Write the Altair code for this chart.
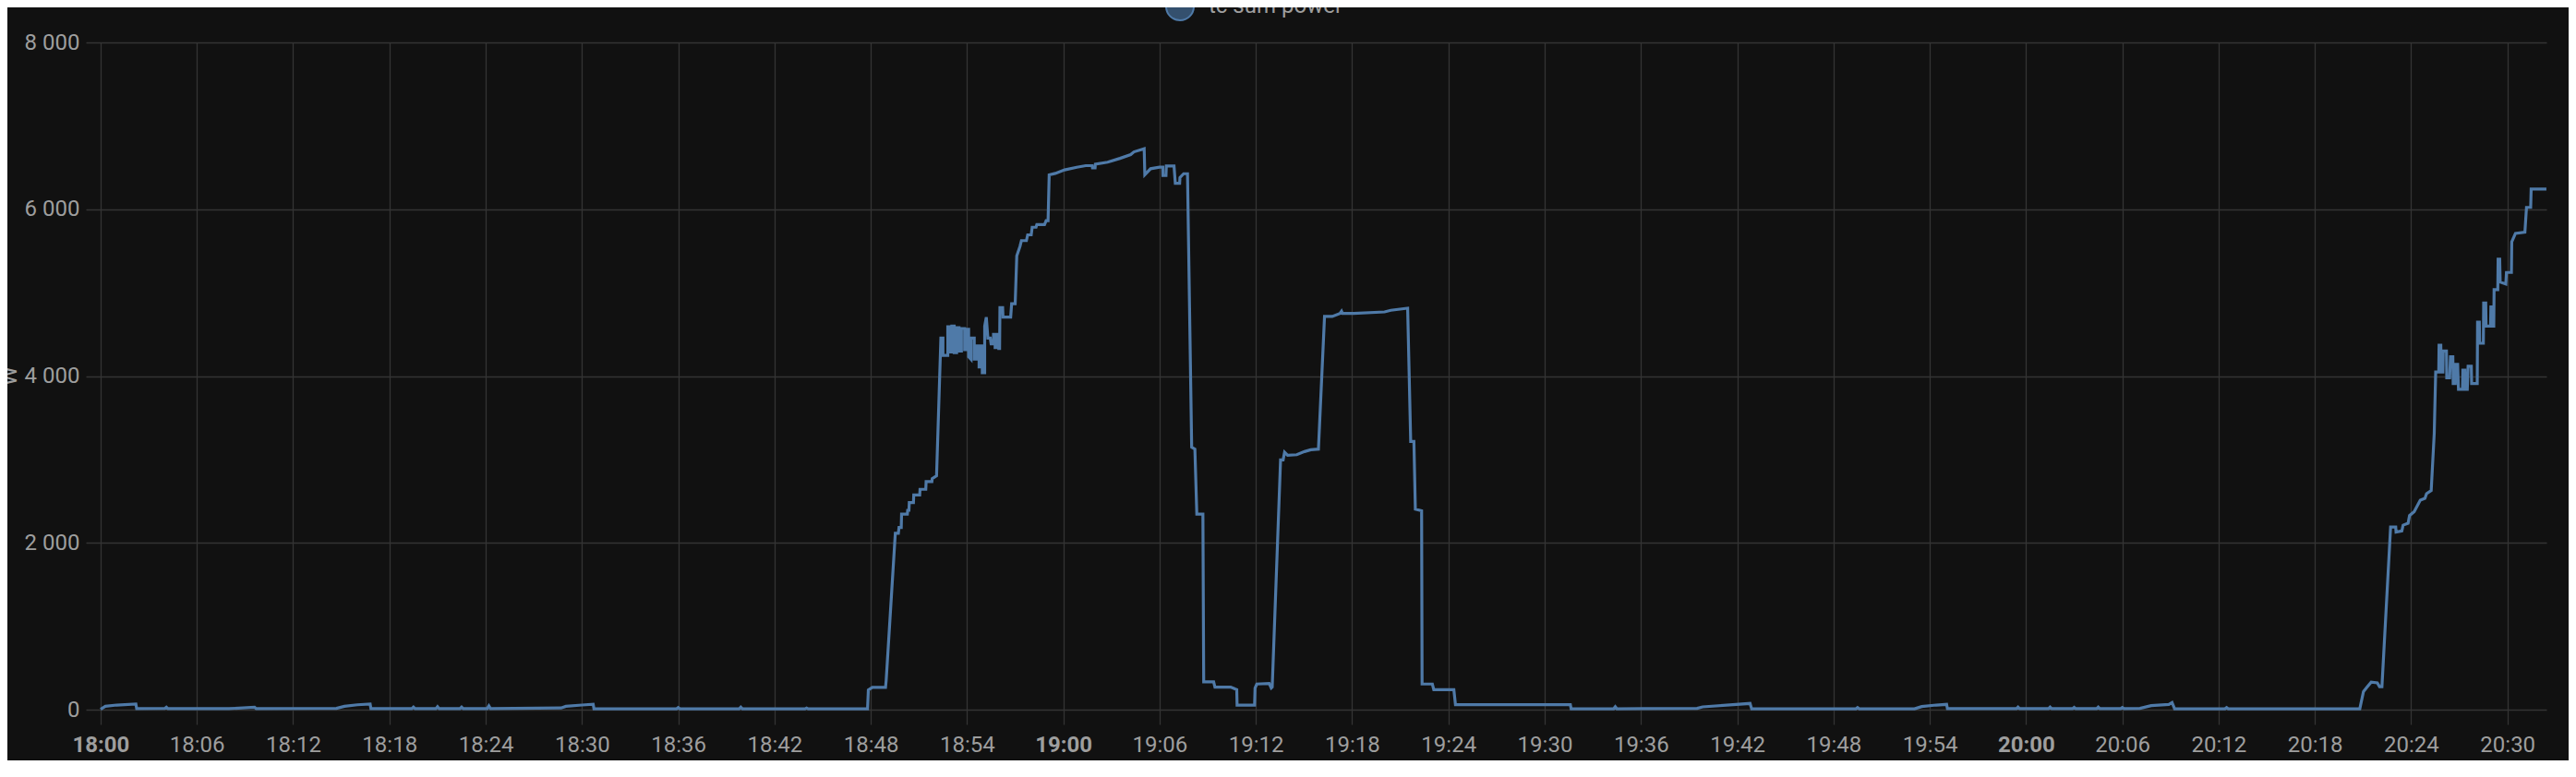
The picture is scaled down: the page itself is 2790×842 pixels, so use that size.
import altair as alt
import pandas as pd

# ---- data: (minutes after 18:00, watts) ----
idle_start = [
    (0.0, 5), (0.3, 40), (1.0, 55), (2.2, 68), (2.25, 12), (4.0, 15), (4.1, 30), (4.2, 12),
    (8.0, 12), (9.6, 28), (9.7, 12), (13.5, 14), (14.7, 16), (15.2, 40), (16.0, 58),
    (16.8, 68), (16.85, 12), (19.4, 12), (19.5, 30), (19.6, 12), (20.9, 12), (21.0, 35),
    (21.1, 12), (22.4, 12), (22.5, 30), (22.6, 12), (24.1, 12), (24.2, 45), (24.3, 12),
    (28.7, 20), (29.0, 40), (30.0, 55), (30.7, 65), (30.75, 10), (35.9, 10), (36.0, 25),
    (36.1, 10), (39.8, 10), (39.9, 30), (40.0, 10), (43.9, 10), (44.0, 20), (44.1, 10),
    (47.8, 10), (47.85, 235), (48.1, 266), (48.92, 266),
]
run_one = [
    (48.96, 350), (49.53, 2115), (49.72, 2115), (49.76, 2183), (49.9, 2183), (49.92, 2344),
    (50.28, 2344), (50.3, 2390), (50.38, 2390), (50.4, 2482), (50.66, 2482), (50.68, 2573),
    (51.05, 2573), (51.07, 2642), (51.43, 2642), (51.45, 2734), (51.81, 2734), (51.83, 2770),
    (52.1, 2803), (52.37, 4454), (52.5, 4454), (52.5, 4248), (52.8, 4248), (52.8, 4592),
    (52.95, 4592), (52.95, 4290), (53.05, 4290), (53.05, 4600), (53.2, 4600), (53.2, 4280),
    (53.35, 4280), (53.35, 4580), (53.5, 4580), (53.5, 4300), (53.65, 4300), (53.65, 4570),
    (53.85, 4570), (53.85, 4316), (54.0, 4316), (54.0, 4560), (54.1, 4560), (54.1, 4230),
    (54.25, 4200), (54.25, 4454), (54.45, 4454), (54.45, 4202), (54.6, 4202), (54.6, 4362),
    (54.75, 4362), (54.75, 4110), (54.85, 4110), (54.85, 4362), (54.95, 4362), (54.95, 4041),
    (55.1, 4041), (55.1, 4600), (55.2, 4706), (55.3, 4454), (55.45, 4454), (55.5, 4385),
    (55.65, 4385), (55.65, 4500), (55.75, 4500), (55.75, 4340), (55.9, 4340), (55.9, 4500),
    (55.98, 4500), (55.98, 4330), (56.03, 4330), (56.05, 4821), (56.22, 4821), (56.24, 4706),
    (56.72, 4706), (56.78, 4867), (57.0, 4867), (57.1, 5440), (57.3, 5555), (57.39, 5624),
    (57.7, 5624), (57.78, 5693), (58.0, 5693), (58.06, 5784), (58.3, 5784), (58.35, 5816),
    (58.83, 5816), (58.93, 5862), (59.05, 5862), (59.12, 6413), (59.5, 6430), (60.08, 6472),
    (60.84, 6504), (61.4, 6523), (61.8, 6523), (61.82, 6495), (61.98, 6495), (62.0, 6541),
    (62.76, 6564), (63.53, 6610), (64.2, 6656), (64.4, 6688), (65.04, 6725), (65.08, 6413),
    (65.44, 6486), (66.0, 6504), (66.2, 6504), (66.21, 6404), (66.4, 6404), (66.42, 6518),
    (66.9, 6518), (66.98, 6312), (67.25, 6312), (67.27, 6381), (67.5, 6426), (67.74, 6426),
    (68.0, 3147), (68.2, 3124), (68.32, 2344), (68.70, 2344), (68.75, 333), (69.37, 333),
    (69.45, 270), (70.43, 270), (70.7, 248), (70.81, 240), (70.83, 55), (71.92, 55),
    (71.95, 259), (72.06, 307), (72.83, 314), (72.96, 259), (73.02, 270),
]
run_two = [
    (73.54, 2995), (73.7, 2995), (73.79, 3087), (73.98, 3050), (74.55, 3057), (75.03, 3094),
    (75.42, 3116), (75.9, 3124), (76.28, 4714), (76.76, 4714), (77.24, 4751), (77.34, 4777),
    (77.4, 4751), (78.1, 4751), (80.02, 4769), (80.41, 4788), (81.46, 4813), (81.65, 3216),
    (81.85, 3216), (81.94, 2403), (82.33, 2385), (82.36, 307), (83.0, 307), (83.09, 240),
    (84.34, 240), (84.44, 60),
]
idle_mid = [
    (91.6, 60), (91.65, 10), (94.3, 10), (94.4, 35), (94.5, 10), (99.5, 15), (99.85, 33),
    (102.8, 74), (102.9, 10), (109.4, 10), (109.5, 25), (109.6, 10), (113.05, 10),
    (113.5, 37), (114.4, 55), (115.05, 63), (115.1, 12), (119.4, 12), (119.5, 30),
    (119.6, 12), (121.4, 12), (121.5, 30), (121.6, 12), (122.9, 12), (123.0, 28),
    (123.1, 12), (124.4, 12), (124.5, 30), (124.6, 12), (125.9, 12), (126.0, 25),
    (126.1, 12), (127.1, 15), (127.8, 48), (128.9, 63), (129.1, 85), (129.26, 10),
    (132.4, 10), (132.5, 25), (132.6, 10), (140.8, 10),
]
run_three = [
    (141.03, 216), (141.22, 262), (141.51, 330), (141.89, 321), (142.03, 275), (142.18, 275),
    (142.72, 2190), (143.04, 2190), (143.06, 2130), (143.42, 2143), (143.5, 2212),
    (143.81, 2235), (143.9, 2327), (144.19, 2373), (144.38, 2442), (144.57, 2511),
    (144.86, 2534), (144.96, 2589), (145.25, 2626), (145.44, 3314), (145.53, 4048),
    (145.72, 4048), (145.74, 4370), (145.85, 4370), (145.87, 4048), (145.98, 4048),
    (146.0, 4301), (146.2, 4301), (146.22, 3980), (146.4, 3980), (146.45, 4232),
    (146.6, 4232), (146.62, 3911), (146.75, 3911), (146.78, 4140), (146.9, 4140),
    (146.95, 3842), (147.2, 3842), (147.22, 4071), (147.35, 4071), (147.37, 3842),
    (147.5, 3842), (147.55, 4117), (147.75, 4117), (147.77, 3911), (148.12, 3911),
    (148.14, 4645), (148.25, 4645), (148.27, 4393), (148.5, 4393), (148.52, 4875),
    (148.65, 4875), (148.67, 4599), (148.95, 4599), (148.97, 4829), (149.1, 4829),
    (149.12, 4599), (149.15, 4599), (149.17, 5035), (149.4, 5035), (149.42, 5402),
    (149.52, 5402), (149.55, 5127), (149.9, 5104), (149.94, 5242), (150.25, 5242),
    (150.27, 5609), (150.5, 5710), (151.09, 5724), (151.19, 6022), (151.45, 6022),
    (151.48, 6242), (152.43, 6242),
]

series_name = "tc sum power"
tick_labels = ["18:00", "18:06", "18:12", "18:18", "18:24", "18:30", "18:36", "18:42",
               "18:48", "18:54", "19:00", "19:06", "19:12", "19:18", "19:24", "19:30",
               "19:36", "19:42", "19:48", "19:54", "20:00", "20:06", "20:12", "20:18",
               "20:24", "20:30"]
y_ticks = [0, 2000, 4000, 6000, 8000]

rows = idle_start + run_one + run_two + idle_mid + run_three
base = pd.Timestamp("2024-01-01 18:00:00")
df = pd.DataFrame(rows, columns=["minute", "watts"])
df["time"] = base + pd.to_timedelta(df["minute"], unit="m")
df["series"] = series_name

def dt(h, m, s=0):
    return alt.DateTime(year=2024, month=1, date=1, hours=h, minutes=m, seconds=s)

tick_vals = [dt(int(t[:2]), int(t[3:])) for t in tick_labels]

LINE = "#4f7aa8"
GRID = "#343434"
TXT = "#9e9e9e"

chart = alt.Chart(df).mark_line(strokeWidth=3.2, interpolate="linear").encode(
    x=alt.X("time:T",
            scale=alt.Scale(domain=[dt(17, 59, 5), dt(20, 32, 26)], nice=False),
            axis=alt.Axis(values=tick_vals, format="%H:%M", title=None, domain=False,
                          ticks=True, tickSize=16, tickColor=GRID, tickWidth=1.3,
                          grid=True, gridColor=GRID, gridWidth=1.3,
                          labelFontSize=24, labelColor=TXT, labelPadding=10,
                          labelFlush=False, labelOverlap=False,
                          labelFontWeight={"condition": {"test": "minutes(datum.value) === 0",
                                                         "value": "bold"},
                                           "value": "normal"})),
    y=alt.Y("watts:Q",
            scale=alt.Scale(domain=[0, 8000], nice=False),
            axis=alt.Axis(values=y_ticks, title="W", domain=False, ticks=False,
                          grid=True, gridColor=GRID, gridWidth=1.6,
                          labelFontSize=24, labelColor=TXT, labelPadding=7,
                          labelExpr="datum.value == 0 ? '0' : (datum.value / 1000) + ' 000'",
                          titleFontSize=24, titleColor=TXT, titleFontWeight="normal",
                          titleAngle=-90, titleX=-76, titleY=361, titleAlign="center",
                          titleBaseline="alphabetic")),
    color=alt.Color("series:N",
                    scale=alt.Scale(range=[LINE]),
                    legend=alt.Legend(orient="none", legendX=1169, legendY=-55, title=None,
                                      symbolType="circle", symbolSize=900,
                                      symbolFillColor="#34506e", symbolStrokeColor="#5580b0",
                                      symbolStrokeWidth=2, symbolOpacity=1,
                                      labelFontSize=24, labelColor=TXT, labelOffset=15,
                                      padding=0)),
).properties(
    width=2665, height=723,
    autosize=alt.AutoSizeParams(type="none"),
    padding={"left": 85, "top": 38, "right": 24, "bottom": 55},
    background="#111111",
).configure(font="Roboto").configure_view(stroke=None)

chart.save("out.html", embed_options={"renderer": "svg", "actions": False})
